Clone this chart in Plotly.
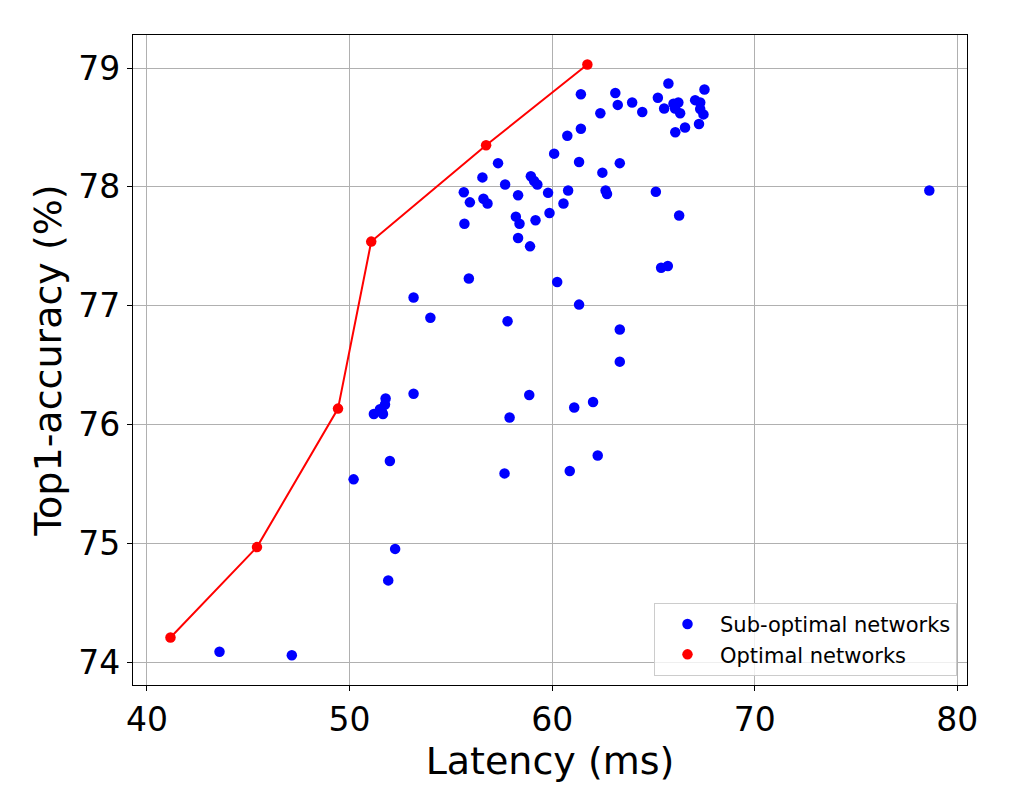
import plotly.graph_objects as go

# Sub-optimal networks (latency ms, top1 accuracy %)
sub_latency = [
    55.64, 55.94, 55.67, 56.56, 57.33, 56.61, 56.81, 57.68, 58.32, 58.21,
    58.39, 59.18, 58.32, 58.91, 58.95, 59.11, 59.27, 59.80, 59.87, 60.56,
    60.79, 60.10, 60.75, 61.42, 61.42, 61.33, 55.89, 53.16, 53.99, 57.80,
    60.25, 61.33, 63.12, 63.24, 62.38, 63.95, 64.45, 65.22, 65.74, 65.53,
    65.99, 66.23, 66.07, 66.32, 66.08, 66.56, 67.06, 67.31, 67.31, 67.47,
    67.25, 67.52, 62.48, 63.34, 62.64, 62.71, 65.12, 66.27, 78.62, 65.38,
    65.71, 63.34, 63.34, 51.78, 51.75, 51.50, 51.20, 51.65, 51.60, 53.16,
    58.87, 57.90, 61.09, 62.02, 50.20, 51.99, 57.65, 60.87, 62.25, 52.25,
    51.91, 43.58, 47.15,
]
sub_accuracy = [
    77.955, 77.87, 77.69, 78.08, 78.20, 77.90, 77.86, 78.02, 77.93, 77.75,
    77.69, 77.72, 77.57, 77.50, 78.09, 78.05, 78.02, 77.95, 77.78, 77.86,
    77.97, 78.28, 78.43, 78.49, 78.78, 78.21, 77.23, 77.07, 76.90, 76.87,
    77.20, 77.01, 78.79, 78.69, 78.62, 78.71, 78.63, 78.75, 78.87, 78.66,
    78.70, 78.71, 78.66, 78.62, 78.46, 78.50, 78.73, 78.71, 78.655, 78.61,
    78.53, 78.82, 78.12, 78.20, 77.97, 77.94, 77.96, 77.76, 77.97, 77.32,
    77.335, 76.80, 76.53, 76.22, 76.17, 76.13, 76.09, 76.09, 76.11, 76.26,
    76.25, 76.06, 76.145, 76.19, 75.54, 75.695, 75.59, 75.61, 75.74, 74.955,
    74.69, 74.09, 74.06,
]

# Optimal (Pareto) networks
opt_latency = [41.16, 45.43, 49.43, 51.07, 56.74, 61.74]
opt_accuracy = [74.21, 74.97, 76.135, 77.54, 78.35, 79.03]

x_ticks = [40, 50, 60, 70, 80]
y_ticks = [74, 75, 76, 77, 78, 79]

FONT = "DejaVu Sans"

fig = go.Figure()
fig.add_trace(go.Scatter(
    x=sub_latency, y=sub_accuracy, mode="markers",
    name="Sub-optimal networks",
    marker=dict(color="#0000ff", size=10.5, line=dict(width=0)),
))
fig.add_trace(go.Scatter(
    x=opt_latency, y=opt_accuracy, mode="lines",
    line=dict(color="#ff0000", width=2),
    showlegend=False, hoverinfo="skip",
))
fig.add_trace(go.Scatter(
    x=opt_latency, y=opt_accuracy, mode="markers",
    name="Optimal networks",
    marker=dict(color="#ff0000", size=10.5, line=dict(width=0)),
))

axis_common = dict(
    showgrid=True, gridcolor="#b0b0b0", gridwidth=1,
    showline=True, linecolor="black", linewidth=1.2, mirror=True,
    ticks="outside", ticklen=5, tickwidth=1, tickcolor="black",
    tickfont=dict(family=FONT, size=33, color="black"),
    zeroline=False,
)

fig.update_layout(
    width=1000, height=780,
    paper_bgcolor="white", plot_bgcolor="white",
    margin=dict(l=125, r=41, t=27, b=103),
    font=dict(family=FONT, color="black"),
    xaxis=dict(
        range=[39.31, 80.48], tickvals=x_ticks,
        title=dict(text="Latency (ms)", font=dict(family=FONT, size=38), standoff=4),
        **axis_common,
    ),
    yaxis=dict(
        range=[73.81, 79.278], tickvals=y_ticks,
        title=dict(text="Top1-accuracy (%)", font=dict(family=FONT, size=38), standoff=4),
        **axis_common,
    ),
    legend=dict(
        x=0.988, y=0.014, xanchor="right", yanchor="bottom",
        bgcolor="rgba(255,255,255,0.8)", bordercolor="#cccccc", borderwidth=1,
        font=dict(family=FONT, size=21, color="black"),
        itemwidth=55, tracegroupgap=0,
    ),
    showlegend=True,
)

fig.write_html("out.html")
